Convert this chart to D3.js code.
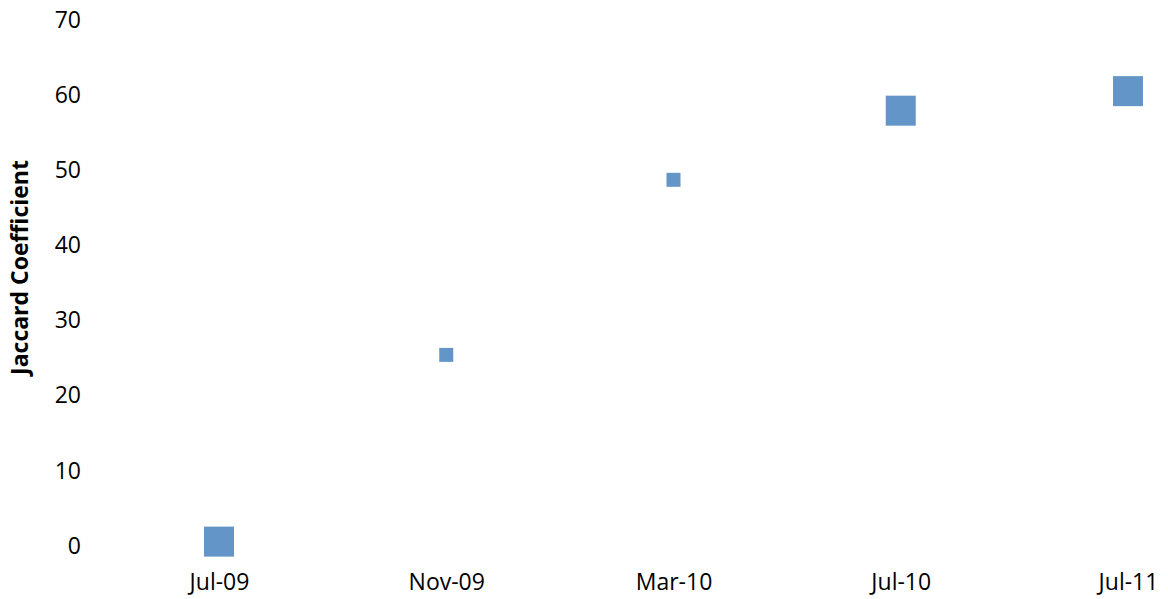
<!DOCTYPE html>
<html>
<head>
<meta charset="utf-8">
<script src="https://cdn.jsdelivr.net/npm/d3@7"></script>
<style>
  html, body { margin: 0; padding: 0; background: #fff; }
  svg { display: block; }
  .tick text { font-family: "Open Sans", sans-serif; fill: #000; }
</style>
</head>
<body>
<svg id="chart" width="1168" height="599"></svg>
<script>
// Data
const categories = ["Jul-09", "Nov-09", "Mar-10", "Jul-10", "Jul-11"];
const jaccard = [0.45, 25.3, 48.6, 57.8, 60.4];
const markerGroup = ["large", "small", "small", "large", "large"];
const yTicks = [0, 10, 20, 30, 40, 50, 60, 70];
const yTitle = "Jaccard Coefficient";

const svg = d3.select("#chart");
const fontSize = 23;

const x = d3.scalePoint().domain(categories).range([219, 1128]);
const y = d3.scaleLinear().domain([0, 70]).range([545, 19]);
const size = d3.scaleOrdinal().domain(["small", "large"]).range([14, 30]);

// Y axis (no lines)
const yAxis = svg.append("g")
  .attr("transform", "translate(81,0)")
  .call(d3.axisLeft(y).tickValues(yTicks).tickSize(0).tickPadding(0));
yAxis.select(".domain").remove();
yAxis.selectAll("text").style("font-size", fontSize + "px").attr("dy", "0.36em");

// X axis (no lines)
const xAxis = svg.append("g")
  .attr("transform", "translate(0,573)")
  .call(d3.axisBottom(x).tickSize(0).tickPadding(0));
xAxis.select(".domain").remove();
xAxis.selectAll("text").style("font-size", fontSize + "px").attr("dy", "0.73em");

// Y title
svg.append("text")
  .attr("transform", `translate(28,${(153 + 382) / 2}) rotate(-90)`)
  .attr("text-anchor", "middle")
  .style("font-family", "'Open Sans', sans-serif")
  .style("font-weight", "bold")
  .style("font-size", "23px")
  .text(yTitle);

// Markers
svg.append("g").selectAll("rect")
  .data(categories.map((c, i) => ({ c, v: jaccard[i], g: markerGroup[i] })))
  .join("rect")
  .attr("x", d => x(d.c) - size(d.g) / 2)
  .attr("y", d => y(d.v) - size(d.g) / 2)
  .attr("width", d => size(d.g))
  .attr("height", d => size(d.g))
  .attr("fill", "#6395c8");
</script>
</body>
</html>
